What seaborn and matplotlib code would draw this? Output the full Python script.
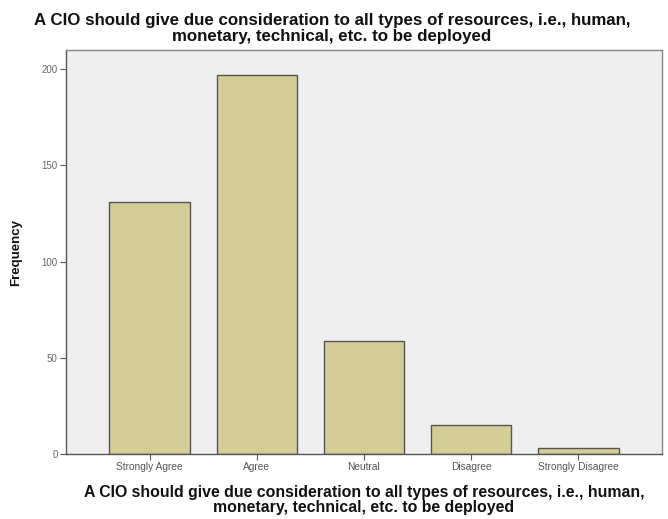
import seaborn as sns
import pandas as pd
import matplotlib.pyplot as plt

categories = ["Strongly Agree", "Agree", "Neutral", "Disagree", "Strongly Disagree"]
frequency = [131, 197, 59, 15, 3]
yticks = [0, 50, 100, 150, 200]

title = ("A CIO should give due consideration to all types of resources, i.e., human,\n"
         "monetary, technical, etc. to be deployed")

sns.set_style("white")
plt.rcParams["font.family"] = ["Liberation Sans", "DejaVu Sans"]

df = pd.DataFrame({"response": categories, "count": frequency})

fig = plt.figure(figsize=(6.68, 5.19), dpi=100)
ax = fig.add_axes([0.0988, 0.1252, 0.8922, 0.7785])
ax.set_facecolor("#efefef")

sns.barplot(data=df, x="response", y="count", order=categories, color="#d3ce97",
            saturation=1, width=0.75, edgecolor="#555555", linewidth=1.0, ax=ax)

ax.set_xlim(-0.78, 4.78)
ax.set_ylim(0, 210)
ax.set_yticks(yticks)
ax.set_yticklabels([str(v) for v in yticks], fontsize=7, color="#666666")
ax.set_xticks(range(len(categories)))
ax.set_xticklabels(categories, fontsize=7.3, color="#555555")
ax.tick_params(axis="both", direction="out", length=4, width=0.8, color="#555555",
               bottom=True, left=True, pad=2)

for s in ax.spines.values():
    s.set_color("#888888")
    s.set_linewidth(1.0)
ax.spines["left"].set_color("#555555")
ax.spines["bottom"].set_color("#555555")

ax.set_xlabel(title, fontsize=11.4, fontweight="bold", labelpad=9, linespacing=1.05,
              color="#111111")
ax.set_ylabel("Frequency", fontsize=9.5, fontweight="bold", labelpad=14, color="#111111")
fig.suptitle(title, x=0.497, y=0.975, fontsize=12.2, fontweight="bold", linespacing=1.05,
             color="#111111")

fig.savefig("out.png", dpi=100)
